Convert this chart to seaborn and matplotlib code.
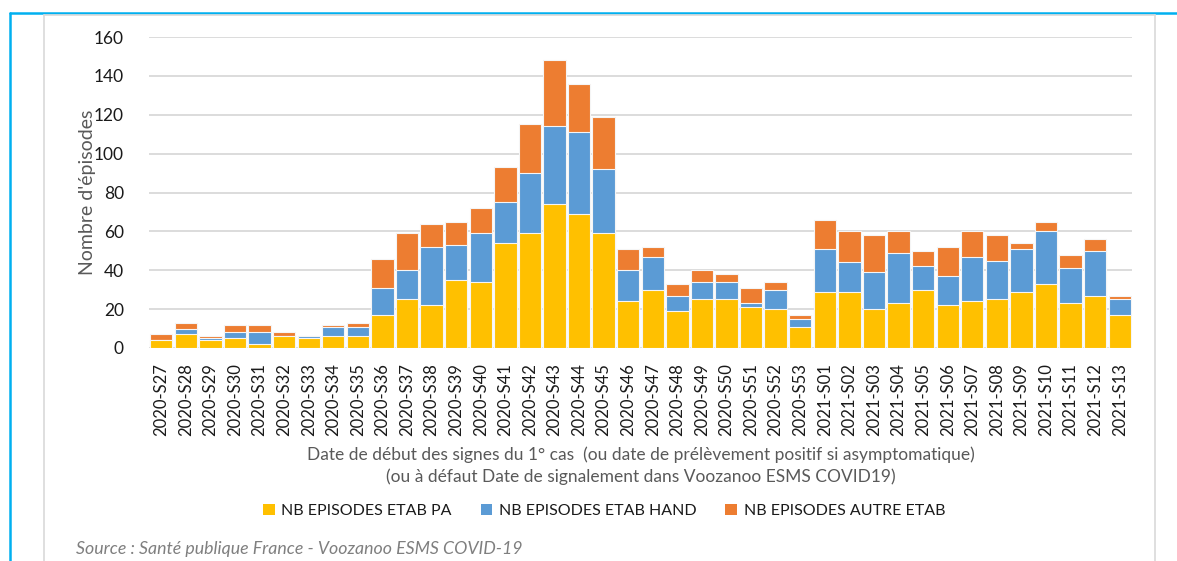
import numpy as np
import pandas as pd
import matplotlib.pyplot as plt
import seaborn as sns
from matplotlib.lines import Line2D
from matplotlib.patches import Patch

weeks = [f"2020-S{w}" for w in range(27, 54)] + [f"2021-S{w:02d}" for w in range(1, 14)]

etab_pa = [4, 7, 4, 5, 2, 6, 5, 6, 6, 17, 25, 22, 35, 34, 54, 59, 74, 69, 59, 24,
           30, 19, 25, 25, 21, 20, 11,
           29, 29, 20, 23, 30, 22, 24, 25, 29, 33, 23, 27, 17]
etab_hand = [0, 3, 1, 3, 6, 0, 1, 5, 5, 14, 15, 30, 18, 25, 21, 31, 40, 42, 33, 16,
             17, 8, 9, 9, 2, 10, 4,
             22, 15, 19, 26, 12, 15, 23, 20, 22, 27, 18, 23, 8]
autre_etab = [3, 3, 1, 4, 4, 2, 0, 1, 2, 15, 19, 12, 12, 13, 18, 25, 34, 25, 27, 11,
              5, 6, 6, 4, 8, 4, 2,
              15, 16, 19, 11, 8, 15, 13, 13, 3, 5, 7, 6, 2]

series_names = ["NB EPISODES ETAB PA", "NB EPISODES ETAB HAND", "NB EPISODES AUTRE ETAB"]
colors = ["#FFC000", "#5B9BD5", "#ED7D31"]

df = pd.DataFrame({"week": weeks, "pa": etab_pa, "hand": etab_hand, "autre": autre_etab})
df["cum_pa"] = df["pa"]
df["cum_hand"] = df["pa"] + df["hand"]
df["cum_autre"] = df["cum_hand"] + df["autre"]

sns.set_style("white")
plt.rcParams["font.family"] = ["Lato", "DejaVu Sans"]

W, H = 1177, 561
fig = plt.figure(figsize=(W / 100, H / 100), dpi=100)
ax = fig.add_axes([149 / W, 1 - 348 / H, (1132 - 149) / W, (348 - 37) / H])

# stacked bars drawn from the top total down
for col, c in zip(["cum_autre", "cum_hand", "cum_pa"], colors[::-1]):
    sns.barplot(data=df, x="week", y=col, color=c, width=0.91, saturation=1,
                edgecolor="#F5F5F5", linewidth=0.8, ax=ax, zorder=3)

ax.set_ylim(0, 160)
ax.set_xlim(-0.5, len(weeks) - 0.5)
ax.set_yticks(range(0, 161, 20))
ax.yaxis.grid(True, color="#D9D9D9", linewidth=1.3, zorder=0)
ax.set_axisbelow(True)
for s in ax.spines.values():
    s.set_visible(False)
ax.tick_params(axis="both", length=0, colors="#1a1a1a")
ax.tick_params(axis="y", pad=18, labelsize=12.5)
ax.tick_params(axis="x", pad=11, labelsize=12)
plt.setp(ax.get_xticklabels(), rotation=90)
ax.set_xlabel("")
ax.set_ylabel("")

fig.text(88 / W, 1 - 192 / H, "Nombre d'épisodes", rotation=90, ha="center", va="center",
         fontsize=14, color="#595959")
fig.text(641 / W, 1 - 455 / H,
         "Date de début des signes du 1° cas  (ou date de prélèvement positif si asymptomatique)",
         ha="center", va="center", fontsize=12.5, color="#595959")
fig.text(641 / W, 1 - 477 / H,
         "(ou à défaut Date de signalement dans Voozanoo ESMS COVID19)",
         ha="center", va="center", fontsize=12.5, color="#595959")

handles = [Patch(facecolor=c, edgecolor="none") for c in colors]
fig.legend(handles, series_names, loc="center", bbox_to_anchor=(604 / W, 1 - 511 / H),
           ncol=3, frameon=False, fontsize=11.5, handlelength=0.75, handleheight=0.75,
           handletextpad=0.4, columnspacing=1.8, labelcolor="#1a1a1a")

fig.text(76 / W, 1 - 549 / H, "Source : Santé publique France - Voozanoo ESMS COVID-19",
         ha="left", va="center", fontsize=12.8, style="italic", color="#7F7F7F")

# frames around the chart
blue = "#00B0F0"
fig.add_artist(Line2D([10 / W, 1], [1 - 13 / H, 1 - 13 / H], color=blue, linewidth=1.8))
fig.add_artist(Line2D([10 / W, 10 / W], [1 - 13 / H, 0], color=blue, linewidth=1.8))
grey = "#D9D9D9"
fig.add_artist(Line2D([44 / W, 1155 / W], [1 - 15 / H, 1 - 15 / H], color=grey, linewidth=1.2))
fig.add_artist(Line2D([44 / W, 44 / W], [1 - 15 / H, 0], color=grey, linewidth=1.2))
fig.add_artist(Line2D([1155 / W, 1155 / W], [1 - 15 / H, 0], color=grey, linewidth=1.2))

fig.savefig("out.png", dpi=100)
